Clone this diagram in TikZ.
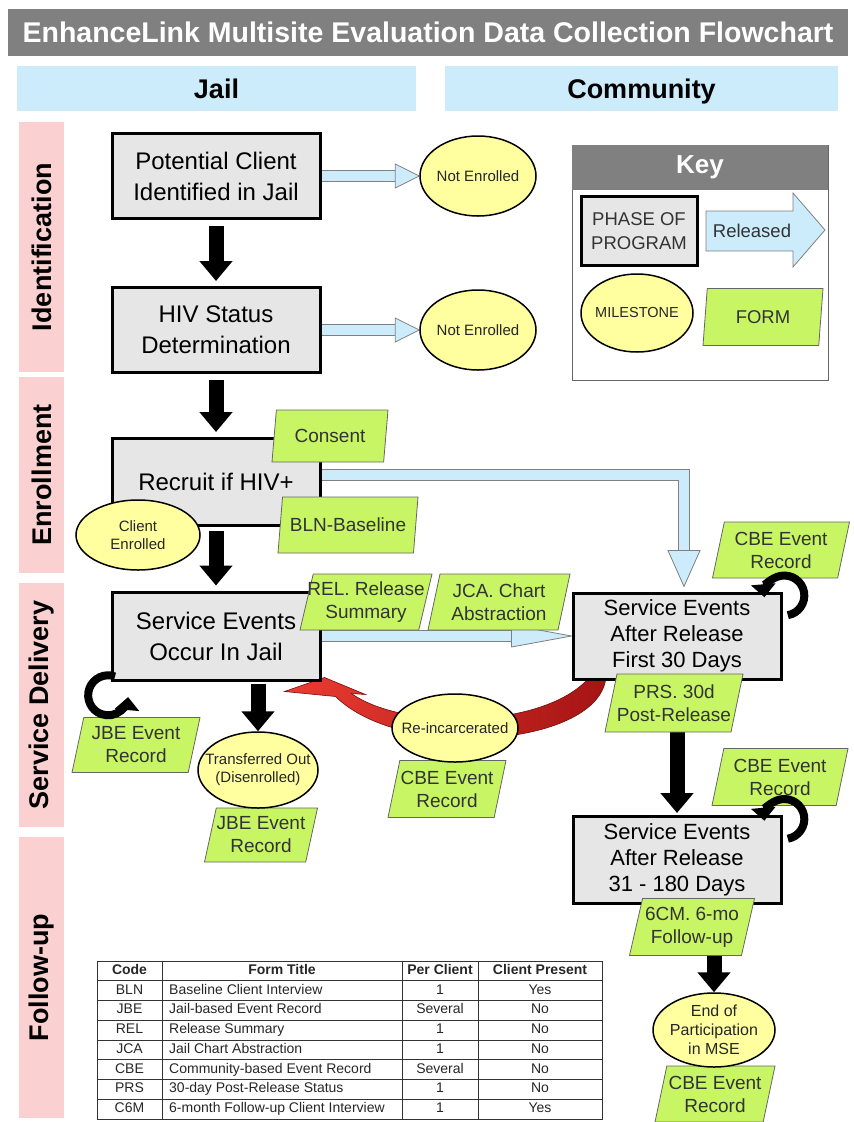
\documentclass[tikz,border=0pt]{standalone}
\usepackage{fontspec}
\setmainfont{Liberation Sans}
\usetikzlibrary{shapes.geometric,arrows.meta,calc}
\pgfdeclarelayer{bg}
\pgfsetlayers{bg,main}

\definecolor{hdgray}{RGB}{128,128,128}
\definecolor{laneblue}{RGB}{204,236,252}
\definecolor{phasepink}{RGB}{250,208,208}
\definecolor{boxgray}{RGB}{230,230,230}
\definecolor{msyellow}{RGB}{255,255,160}
\definecolor{formgreen}{RGB}{200,245,100}
\definecolor{arrowblue}{RGB}{204,236,252}
\definecolor{reinclight}{RGB}{235,60,50}
\definecolor{reincdark}{RGB}{165,20,20}

\begin{document}
\begin{tikzpicture}[x=1pt,y=1pt,yscale=-1,
  titlebar/.style={fill=hdgray, text=white, minimum width=840, minimum height=47, inner sep=0, font=\bfseries\fontsize{28.5}{34}\selectfont},
  lane/.style={fill=laneblue, minimum height=45, inner sep=0, text height=23pt, text depth=3pt, font=\bfseries\fontsize{27}{32}\selectfont},
  phase/.style={fill=phasepink, rotate=90, minimum height=45, inner sep=0, font=\bfseries\fontsize{27}{32}\selectfont},
  stagebox/.style={draw, line width=3pt, fill=boxgray, align=center, inner sep=0, minimum width=208, font=\fontsize{24}{31}\selectfont},
  milestone/.style={ellipse, draw, line width=1.5pt, fill=msyellow, align=center, inner xsep=-12pt, inner ysep=-2pt, text=black!85, font=\fontsize{15}{18}\selectfont},
  formbox/.style={trapezium, trapezium left angle=72, trapezium right angle=108, trapezium stretches body, draw=black!60, line width=0.8pt, fill=formgreen, align=center, inner xsep=-14pt, inner ysep=0, minimum height=56, text=black!80, font=\fontsize{19}{23}\selectfont},
  blackarrow/.style={line width=15pt, -{Triangle[width=32pt,length=20pt]}},
  blueshaft/.style={draw=black!50, line width=0.8pt, double=arrowblue, double distance=10pt},
  bluehead/.style={draw=black!50, line width=0.8pt, fill=arrowblue},
  loopline/.style={line width=8pt, -{Triangle[width=24pt,length=13pt]}},
  reincarrow/.style={left color=reinclight, right color=reincdark, draw=reincdark!70!black, line width=0.6pt},
  cell/.style={inner sep=0, text height=10pt, text depth=3pt, text=black!85, font=\fontsize{14}{16}\selectfont},
]
\useasboundingbox (0,0) rectangle (854,1122);

% Title and lanes
\node[titlebar] (title) at (428,32) {EnhanceLink Multisite Evaluation Data Collection Flowchart};
\node[lane, minimum width=399] (jailhd) at (216.5,88.5) {Jail};
\node[lane, minimum width=393] (commhd) at (641.5,88.5) {Community};

% Phase bars
\node[phase, minimum width=250] (idph) at (41.5,247) {Identification};
\node[phase, minimum width=196] (enph) at (41.5,475) {Enrollment};
\node[phase, minimum width=244] (sdph) at (41.5,705) {Service Delivery};
\node[phase, minimum width=281] (fuph) at (41.5,977.5) {Follow-up};

% Key
\node[draw=black!60, line width=0.8pt, minimum width=256, minimum height=235, inner sep=0] (keyfr) at (700,262.5) {};
\node[fill=hdgray, text=white, minimum width=256, minimum height=45, inner sep=0, font=\bfseries\fontsize{26}{30}\selectfont] (keyhd) at (700,167.5) {Key};
\node[stagebox, minimum width=116, minimum height=69, text=black!80, font=\fontsize{18.5}{24}\selectfont] (keyphase) at (639,231) {PHASE OF\\PROGRAM};
\draw[bluehead] (706,211) -- (793,211) -- (793,193) -- (825,230) -- (793,267) -- (793,251) -- (706,251) -- cycle;
\node[inner sep=0, text=black!80, font=\fontsize{18.5}{22}\selectfont] (keyrel) at (752,231) {Released};
\node[milestone, minimum width=112, minimum height=78, font=\fontsize{14.5}{17}\selectfont] (keymile) at (637,313) {MILESTONE};
\node[formbox, minimum width=120, minimum height=57, font=\fontsize{18.5}{22}\selectfont] (keyform) at (763,317) {FORM};

% Phases of program
\node[stagebox, minimum height=85] (pc) at (216,176) {Potential Client\\Identified in Jail};
\node[stagebox, minimum height=85] (hiv) at (216,330) {HIV Status\\Determination};
\node[stagebox, minimum height=87] (rec) at (216,482) {Recruit if HIV+};
\node[stagebox, minimum height=88] (sej) at (216,636) {Service Events\\Occur In Jail};
\node[stagebox, minimum height=86, font=\fontsize{22}{26}\selectfont] (sa30) at (677,636) {Service Events\\After Release\\First 30 Days};
\node[stagebox, minimum height=87, font=\fontsize{22}{26}\selectfont] (sa180) at (677,860) {Service Events\\After Release\\31 - 180 Days};

% Forms
\node[formbox, minimum width=116, minimum height=52] (consent) at (330,436) {Consent};
\node[formbox, minimum width=140] (bln) at (348,525) {BLN-Baseline};
\node[formbox, minimum width=132] (rel) at (366,602) {REL. Release\\Summary};
\node[formbox, minimum width=142] (jca) at (499,602) {JCA. Chart\\Abstraction};
\node[formbox, minimum width=137] (cbe1) at (781,550) {CBE Event\\Record};
\node[formbox, minimum width=138, minimum height=58] (prs) at (674,703) {PRS. 30d\\Post-Release};
\node[formbox, minimum width=128, minimum height=55] (jbe1) at (136,745) {JBE Event\\Record};
\node[formbox, minimum width=113, minimum height=54] (jbe2) at (261,835) {JBE Event\\Record};
\node[formbox, minimum width=118, minimum height=57] (cbe2) at (447,789) {CBE Event\\Record};
\node[formbox, minimum width=136, minimum height=57] (cbe3) at (780,777) {CBE Event\\Record};
\node[formbox, minimum width=125, minimum height=57] (c6m) at (692,927) {6CM. 6-mo\\Follow-up};
\node[formbox, minimum width=120] (cbe4) at (715,1094) {CBE Event\\Record};

% Milestones
\node[milestone, minimum width=116, minimum height=80] (ne1) at (478,176) {Not Enrolled};
\node[milestone, minimum width=116, minimum height=80] (ne2) at (478,330) {Not Enrolled};
\node[milestone, minimum width=124, minimum height=70] (ce) at (138,535) {Client\\Enrolled};
\node[milestone, minimum width=120, minimum height=76] (tro) at (258,770) {Transferred Out\\(Disenrolled)};
\node[milestone, minimum width=126, minimum height=68] (reinc) at (455,728) {Re-incarcerated};
\node[milestone, minimum width=122, minimum height=74, font=\fontsize{16}{19}\selectfont] (endp) at (714,1030) {End of\\Participation\\in MSE};

\begin{pgfonlayer}{bg}
% Re-incarceration
\draw[reincarrow] ($(sej.south east)+(-37,10)$) -- ++(40,-14) -- ++(41,17) -- ++(-14,-1)
  .. controls +(50,36) and +(-48,49) .. ($(sa30.south west)+(15,0)$)
  -- ($(sa30.south west)+(34,0)$)
  .. controls +(-12,66) and +(66,65) .. ($(sej.south east)+(14,15)$) -- cycle;
% Released / not enrolled
\draw[blueshaft] (pc.east) -- ($(ne1.west)+(-24,0)$);
\draw[bluehead] (ne1.west) -- ++(-24,-12) -- ++(0,24) -- cycle;
\draw[blueshaft] (hiv.east) -- ($(ne2.west)+(-24,0)$);
\draw[bluehead] (ne2.west) -- ++(-24,-12) -- ++(0,24) -- cycle;
\draw[blueshaft] ($(rec.east)+(0,-7)$) -| ($(sa30.north)+(7,-40)$);
\draw[bluehead] ($(sa30.north)+(7,-5)$) -- ++(-16,-36) -- ++(32,0) -- cycle;
\draw[blueshaft] (sej.east) -- ($(sa30.west)+(-60,0)$);
\draw[bluehead] (sa30.west) -- ++(-60,-11) -- ++(0,22) -- cycle;
% Program flow
\draw[blackarrow, shorten <=6pt, shorten >=5pt] (pc.south) -- (hiv.north);
\draw[blackarrow, shorten <=6pt, shorten >=5pt] (hiv.south) -- (rec.north);
\draw[blackarrow, shorten <=4pt, shorten >=5pt] (rec.south) -- (sej.north);
\draw[blackarrow, shorten <=2pt] (tro.north |- sej.south) -- (tro.north);
\draw[blackarrow, shorten <=-2pt, shorten >=2pt] (sa180.north |- prs.south) -- (sa180.north);
\draw[blackarrow, shorten <=-2pt] (endp.north |- c6m.south) -- (endp.north);
\end{pgfonlayer}

% Event loops
\draw[loopline] ($(sej.south west)+(4.5,-5)$) arc[start angle=-70, end angle=-355, radius=20];
\draw[loopline] ($(sa30.north east)+(5.3,23.7)$) arc[start angle=80, end angle=-185, radius=20];
\draw[loopline] ($(sa180.north east)+(5.3,23.7)$) arc[start angle=80, end angle=-185, radius=20];

% Table of forms
\draw[line width=0.8pt, black!80] (97,961) rectangle (602,1119);
\foreach \r in {1,...,7} \draw[line width=0.6pt, black!80] (97,{961+19.75*\r}) -- (602,{961+19.75*\r});
\foreach \cx in {162,402,478} \draw[line width=0.6pt, black!80] (\cx,961) -- (\cx,1119);
\node[cell, font=\bfseries\fontsize{14}{16}\selectfont] (hcode) at (129.5,970.9) {Code};
\node[cell, font=\bfseries\fontsize{14}{16}\selectfont] (htitle) at (282,970.9) {Form Title};
\node[cell, font=\bfseries\fontsize{14}{16}\selectfont] (hper) at (440,970.9) {Per Client};
\node[cell, font=\bfseries\fontsize{14}{16}\selectfont] (hpres) at (540,970.9) {Client Present};
\foreach \code/\ftitle/\per/\pres [count=\i] in {BLN/Baseline Client Interview/1/Yes, JBE/Jail-based Event Record/Several/No, REL/Release Summary/1/No, JCA/Jail Chart Abstraction/1/No, CBE/Community-based Event Record/Several/No, PRS/30-day Post-Release Status/1/No, C6M/6-month Follow-up Client Interview/1/Yes} {
  \node[cell] (code\i) at (129.5,{970.9+19.75*\i}) {\code};
  \node[cell, anchor=west] (ftitle\i) at (169,{970.9+19.75*\i}) {\ftitle};
  \node[cell] (per\i) at (440,{970.9+19.75*\i}) {\per};
  \node[cell] (pres\i) at (540,{970.9+19.75*\i}) {\pres};
}
\end{tikzpicture}
\end{document}
